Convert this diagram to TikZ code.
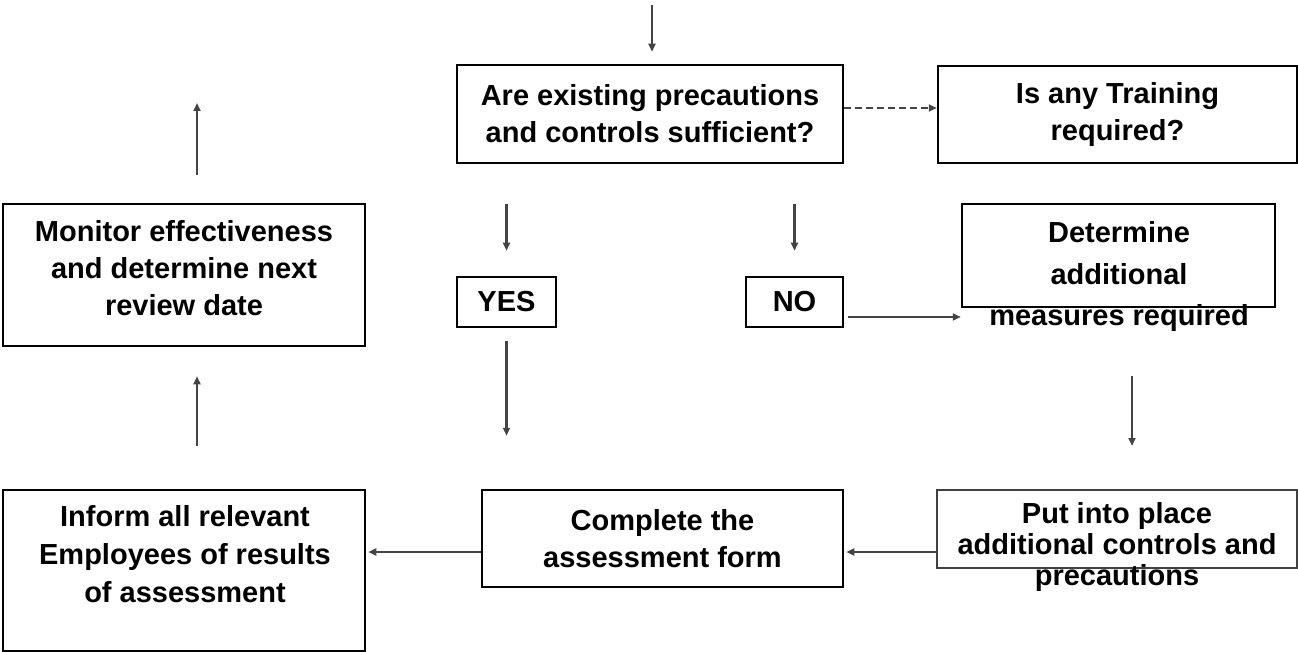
\documentclass[tikz,border=0pt]{standalone}
\usepackage{fontspec}
\setmainfont{Liberation Sans}
\usetikzlibrary{arrows.meta}
\definecolor{arrowgray}{HTML}{444444}

\begin{document}
\begin{tikzpicture}[x=1pt,y=-1pt,
		box/.style={draw=black,line width=2.5pt,inner sep=0pt,align=center,font=\bfseries\fontsize{29}{37}\selectfont},
		txt/.style={inner sep=0pt,align=center,font=\bfseries\fontsize{29}{37}\selectfont},
		arr/.style={draw=arrowgray,line width=2.5pt,-{Triangle[length=8pt,width=7pt]}}]
		\useasboundingbox (0,0) rectangle (1298,652);
		\node[box,minimum width=386pt,minimum height=98pt] (question) at (650,114) {Are existing precautions\\and controls sufficient?};
		\node[box,minimum width=359pt,minimum height=97pt] (training) at (1117.5,114.5) {Is any Training\\required?};
		\node[box,minimum width=362pt,minimum height=142pt] (monitor) at (184,275) {};
		\node[txt] (monitortxt) at (184,268) {Monitor effectiveness\\and determine next\\review date};
		\node[box,minimum width=99pt,minimum height=50pt] (yes) at (506.5,302) {YES};
		\node[box,minimum width=97pt,minimum height=50pt] (no) at (794.5,302) {NO};
		\node[box,minimum width=313pt,minimum height=103pt] (determine) at (1118.5,255.5) {};
		\node[txt,font=\bfseries\fontsize{29}{41.5}\selectfont] (determinetxt) at (1119,277) {Determine\\additional\\measures required};
		\node[box,minimum width=362pt,minimum height=161pt] (inform) at (184,570.5) {};
		\node[txt,font=\bfseries\fontsize{29}{38}\selectfont] (informtxt) at (185,554.5) {Inform all relevant\\Employees of results\\of assessment};
		\node[box,minimum width=361pt,minimum height=97pt] (complete) at (662.5,538.5) {Complete the\\assessment form};
		\node[box,draw=black!75,line width=2pt,minimum width=360pt,minimum height=78pt] (put) at (1117,529) {};
		\node[txt,font=\bfseries\fontsize{29}{31}\selectfont] (puttxt) at (1117,546.5) {Put into place\\additional controls and\\precautions};
		\coordinate (entry) at (652,5);
		\coordinate (exit) at (197,103);
		\draw[arr,shorten >=12pt] (entry) -- (entry |- question.north);
		\draw[arr,dash pattern=on 7pt off 4pt] ([yshift=6pt]question.east) -- ([yshift=6pt]question.east -| training.west);
		\draw[arr,shorten <=40pt,shorten >=25pt] (yes.north |- question.south) -- (yes.north);
		\draw[arr,shorten <=40pt,shorten >=25pt] (no.north |- question.south) -- (no.north);
		\draw[arr,shorten <=13pt,shorten >=53pt] (yes.south) -- (yes.south |- complete.north);
		\draw[arr,shorten <=4pt] ([yshift=-15pt]no.east) -- ([yshift=-15pt]no.east -| determine.west);
		\draw[arr,shorten <=68pt,shorten >=43pt] ([xshift=13.5pt]determine.south) -- ([xshift=13.5pt]determine.south |- put.north);
		\draw[arr,shorten >=2pt] ([yshift=-23pt]put.west) -- ([yshift=-23pt]put.west -| complete.east);
		\draw[arr,shorten >=2pt] ([yshift=-13.5pt]complete.west) -- ([yshift=-13.5pt]complete.west -| inform.east);
		\draw[arr,shorten <=43pt,shorten >=29pt] ([xshift=13pt]inform.north) -- ([xshift=13pt]inform.north |- monitor.south);
		\draw[arr,shorten <=28pt] (exit |- monitor.north) -- (exit);
	\end{tikzpicture}
\end{document}
